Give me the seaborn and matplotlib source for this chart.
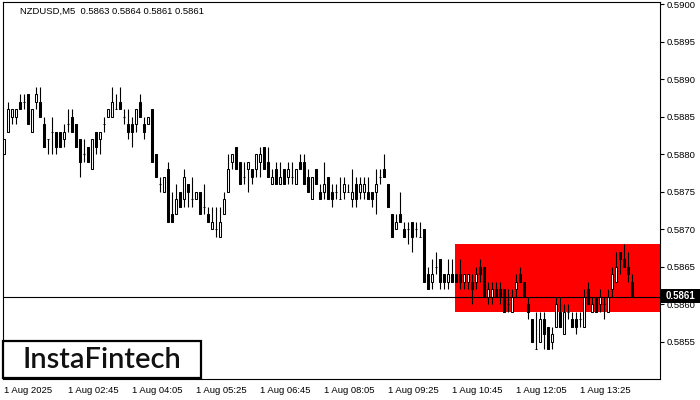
import numpy as np
import pandas as pd
import matplotlib
matplotlib.use('Agg')
import matplotlib.pyplot as plt
from matplotlib.patches import Rectangle
import seaborn as sns

# NZDUSD M5 candles, 1 Aug 2025 01:25 .. 14:30
opens = [
    0.5880, 0.5883, 0.5885, 0.5885, 0.5887, 0.5887, 0.5888, 0.5883, 0.5887, 0.5887,
    0.5884, 0.5882, 0.5883, 0.5883, 0.5883, 0.5882, 0.5884, 0.5885, 0.5884, 0.5882,
    0.5880, 0.5881, 0.5878, 0.5883, 0.5882, 0.5884, 0.5885, 0.5885, 0.5886, 0.5887,
    0.5885, 0.5884, 0.5884, 0.5884, 0.5887, 0.5884, 0.5884, 0.5886, 0.5880, 0.5876,
    0.5875, 0.5878, 0.5872, 0.5872, 0.5875, 0.5874, 0.5876, 0.5874, 0.5874, 0.5875,
    0.5873, 0.5872, 0.5870, 0.5870, 0.5869, 0.5872, 0.5875, 0.5879, 0.5881, 0.5879,
    0.5877, 0.5878, 0.5878, 0.5878, 0.5879, 0.5881, 0.5879, 0.5876, 0.5878, 0.5876,
    0.5878, 0.5877, 0.5877, 0.5876, 0.5879, 0.5879, 0.5877, 0.5874, 0.5878, 0.5875,
    0.5875, 0.5877, 0.5875, 0.5875, 0.5874, 0.5875, 0.5875, 0.5874, 0.5876, 0.5875,
    0.5875, 0.5875, 0.5875, 0.5875, 0.5877, 0.5878, 0.5876, 0.5872, 0.5870, 0.5872,
    0.5870, 0.5870, 0.5871, 0.5870, 0.5869, 0.5870, 0.5864, 0.5863, 0.5865, 0.5866,
    0.5864, 0.5863, 0.5864, 0.5864, 0.5864, 0.5863, 0.5863, 0.5863, 0.5863, 0.5865,
    0.5865, 0.5861, 0.5861, 0.5862, 0.5862, 0.5862, 0.5860, 0.5859, 0.5862, 0.5864,
    0.5863, 0.5860, 0.5858, 0.5854, 0.5855, 0.5858, 0.5857, 0.5855, 0.5857, 0.5859,
    0.5856, 0.5859, 0.5858, 0.5858, 0.5858, 0.5857, 0.5862, 0.5859, 0.5861, 0.5860,
    0.5860, 0.5859, 0.5862, 0.5863, 0.5867, 0.5866, 0.5865, 0.5863,
]
highs = [
    0.5882, 0.5887, 0.5886, 0.5886, 0.5888, 0.5888, 0.5888, 0.5886, 0.5889, 0.5889,
    0.5885, 0.5882, 0.5885, 0.5883, 0.5883, 0.5884, 0.5886, 0.5886, 0.5884, 0.5882,
    0.5882, 0.5881, 0.5882, 0.5883, 0.5883, 0.5885, 0.5886, 0.5889, 0.5888, 0.5889,
    0.5886, 0.5886, 0.5885, 0.5886, 0.5888, 0.5885, 0.5885, 0.5886, 0.5880, 0.5877,
    0.5877, 0.5879, 0.5875, 0.5876, 0.5875, 0.5878, 0.5876, 0.5877, 0.5875, 0.5875,
    0.5876, 0.5873, 0.5873, 0.5873, 0.5873, 0.5875, 0.5880, 0.5880, 0.5881, 0.5879,
    0.5879, 0.5879, 0.5878, 0.5880, 0.5881, 0.5881, 0.5881, 0.5878, 0.5879, 0.5879,
    0.5878, 0.5879, 0.5879, 0.5878, 0.5880, 0.5880, 0.5878, 0.5877, 0.5878, 0.5876,
    0.5879, 0.5877, 0.5876, 0.5876, 0.5877, 0.5877, 0.5876, 0.5878, 0.5877, 0.5877,
    0.5877, 0.5877, 0.5875, 0.5878, 0.5878, 0.5880, 0.5876, 0.5872, 0.5872, 0.5875,
    0.5871, 0.5871, 0.5871, 0.5871, 0.5871, 0.5870, 0.5865, 0.5866, 0.5867, 0.5866,
    0.5864, 0.5866, 0.5866, 0.5864, 0.5866, 0.5864, 0.5864, 0.5864, 0.5865, 0.5866,
    0.5865, 0.5863, 0.5863, 0.5863, 0.5863, 0.5862, 0.5862, 0.5862, 0.5864, 0.5865,
    0.5863, 0.5861, 0.5858, 0.5859, 0.5859, 0.5859, 0.5857, 0.5857, 0.5861, 0.5861,
    0.5860, 0.5860, 0.5859, 0.5859, 0.5859, 0.5862, 0.5863, 0.5861, 0.5861, 0.5862,
    0.5861, 0.5862, 0.5865, 0.5867, 0.5867, 0.5868, 0.5867, 0.5864,
]
lows = [
    0.5880, 0.5883, 0.5884, 0.5884, 0.5886, 0.5886, 0.5884, 0.5883, 0.5886, 0.5885,
    0.5881, 0.5880, 0.5880, 0.5880, 0.5881, 0.5881, 0.5883, 0.5883, 0.5881, 0.5877,
    0.5879, 0.5879, 0.5878, 0.5880, 0.5880, 0.5883, 0.5885, 0.5885, 0.5886, 0.5886,
    0.5884, 0.5882, 0.5881, 0.5883, 0.5885, 0.5882, 0.5884, 0.5879, 0.5877, 0.5875,
    0.5875, 0.5871, 0.5871, 0.5872, 0.5873, 0.5873, 0.5873, 0.5873, 0.5874, 0.5872,
    0.5872, 0.5871, 0.5870, 0.5869, 0.5869, 0.5872, 0.5875, 0.5878, 0.5878, 0.5876,
    0.5876, 0.5875, 0.5876, 0.5877, 0.5877, 0.5878, 0.5877, 0.5876, 0.5876, 0.5876,
    0.5876, 0.5876, 0.5876, 0.5876, 0.5878, 0.5876, 0.5875, 0.5874, 0.5876, 0.5874,
    0.5874, 0.5874, 0.5873, 0.5874, 0.5874, 0.5874, 0.5875, 0.5873, 0.5873, 0.5874,
    0.5874, 0.5874, 0.5873, 0.5872, 0.5876, 0.5877, 0.5873, 0.5869, 0.5870, 0.5871,
    0.5869, 0.5868, 0.5867, 0.5869, 0.5869, 0.5863, 0.5862, 0.5862, 0.5864, 0.5862,
    0.5862, 0.5862, 0.5863, 0.5863, 0.5862, 0.5862, 0.5862, 0.5860, 0.5862, 0.5863,
    0.5861, 0.5860, 0.5860, 0.5861, 0.5860, 0.5859, 0.5859, 0.5859, 0.5861, 0.5863,
    0.5861, 0.5858, 0.5855, 0.5854, 0.5855, 0.5854, 0.5854, 0.5854, 0.5857, 0.5857,
    0.5856, 0.5858, 0.5857, 0.5856, 0.5857, 0.5857, 0.5860, 0.5859, 0.5859, 0.5859,
    0.5858, 0.5859, 0.5861, 0.5863, 0.5864, 0.5865, 0.5863, 0.5861,
]
closes = [
    0.5882, 0.5886, 0.5886, 0.5886, 0.5886, 0.5887, 0.5884, 0.5886, 0.5888, 0.5885,
    0.5881, 0.5882, 0.5883, 0.5881, 0.5881, 0.5883, 0.5884, 0.5883, 0.5881, 0.5879,
    0.5880, 0.5879, 0.5882, 0.5881, 0.5883, 0.5884, 0.5886, 0.5887, 0.5886, 0.5886,
    0.5885, 0.5883, 0.5883, 0.5886, 0.5885, 0.5883, 0.5885, 0.5879, 0.5877, 0.5876,
    0.5877, 0.5871, 0.5871, 0.5874, 0.5873, 0.5877, 0.5875, 0.5874, 0.5875, 0.5872,
    0.5873, 0.5871, 0.5871, 0.5870, 0.5871, 0.5874, 0.5878, 0.5880, 0.5878, 0.5876,
    0.5877, 0.5879, 0.5877, 0.5880, 0.5880, 0.5878, 0.5877, 0.5877, 0.5876, 0.5877,
    0.5876, 0.5878, 0.5877, 0.5878, 0.5878, 0.5876, 0.5875, 0.5877, 0.5876, 0.5874,
    0.5876, 0.5874, 0.5874, 0.5875, 0.5874, 0.5876, 0.5875, 0.5875, 0.5874, 0.5876,
    0.5876, 0.5874, 0.5874, 0.5876, 0.5877, 0.5877, 0.5873, 0.5869, 0.5871, 0.5871,
    0.5869, 0.5870, 0.5869, 0.5870, 0.5869, 0.5863, 0.5862, 0.5864, 0.5865, 0.5863,
    0.5863, 0.5864, 0.5863, 0.5863, 0.5863, 0.5864, 0.5864, 0.5862, 0.5864, 0.5864,
    0.5861, 0.5862, 0.5862, 0.5861, 0.5861, 0.5859, 0.5860, 0.5861, 0.5863, 0.5863,
    0.5861, 0.5859, 0.5855, 0.5854, 0.5858, 0.5856, 0.5854, 0.5856, 0.5860, 0.5857,
    0.5859, 0.5859, 0.5857, 0.5857, 0.5858, 0.5861, 0.5860, 0.5860, 0.5859, 0.5861,
    0.5860, 0.5861, 0.5864, 0.5865, 0.5866, 0.5865, 0.5864, 0.5861,
]

time_labels = ['1 Aug 2025', '1 Aug 02:45', '1 Aug 04:05', '1 Aug 05:25', '1 Aug 06:45',
               '1 Aug 08:05', '1 Aug 09:25', '1 Aug 10:45', '1 Aug 12:05', '1 Aug 13:25']
price_ticks = [0.5855, 0.5860, 0.5865, 0.5870, 0.5875, 0.5880, 0.5885, 0.5890, 0.5895, 0.5900]

zone_start = 112.75   # bar index where the red zone begins
zone_low, zone_high = 0.5859, 0.5868
last_price = 0.5861

df = pd.DataFrame({'open': opens, 'high': highs, 'low': lows, 'close': closes})
df['bar'] = np.arange(len(df))
df['bull'] = df['close'] >= df['open']

sns.set_style('white')
plt.rcParams['font.family'] = ['Liberation Sans', 'DejaVu Sans']

fig = plt.figure(figsize=(7, 4), dpi=100)
ax = fig.add_axes([2.5 / 700, 21 / 400, 657.5 / 700, 377 / 400])

# red zone
ax.add_patch(Rectangle((zone_start, zone_low), 200, zone_high - zone_low,
                       facecolor='#ff0000', edgecolor='none', zorder=1))

# wicks
ax.vlines(df['bar'], df['low'], df['high'], color='black', lw=0.8, zorder=2)

# bodies
body_bottom = df[['open', 'close']].min(axis=1)
body_height = (df['close'] - df['open']).abs()
colors = np.where(df['bull'], 'white', 'black')
ax.bar(df['bar'], body_height, bottom=body_bottom, width=0.62, color=colors,
       edgecolor='black', linewidth=0.75, zorder=3)

# current price line
ax.axhline(last_price, color='black', lw=0.8, zorder=4)

ax.set_xlim(-0.375, 164)
ax.set_ylim(0.5850, 0.59003)

ax.yaxis.tick_right()
ax.set_yticks(price_ticks)
ax.set_yticklabels([f'{p:.4f}' for p in price_ticks])
ax.set_xticks(np.arange(len(time_labels)) * 16)
ax.set_xticklabels(time_labels, ha='left')
ax.tick_params(axis='y', direction='out', length=3, width=0.8, pad=2,
               labelsize=6.8, colors='black')
ax.tick_params(axis='x', direction='out', length=3, width=0.8, pad=2,
               labelsize=6.8, colors='black')
for s in ax.spines.values():
    s.set_color('black')
    s.set_linewidth(0.8)

ax.text(18 / 657.5, 1 - 9 / 377, 'NZDUSD,M5  0.5863 0.5864 0.5861 0.5861',
        transform=ax.transAxes, fontsize=6.8, va='center', ha='left', color='black')

# last price tag on the scale
fig.patches.append(Rectangle((661 / 700, 97 / 400), 39 / 700, 14 / 400,
                             transform=fig.transFigure, facecolor='black',
                             edgecolor='none', zorder=10))
fig.text(681 / 700, 104 / 400, f'{last_price:.4f}', color='white', fontsize=7,
         fontweight='bold', ha='center', va='center', zorder=11)

# logo
fig.patches.append(Rectangle((3 / 700, 22 / 400), 198 / 700, 37 / 400,
                             transform=fig.transFigure, facecolor='white',
                             edgecolor='black', linewidth=1.6, zorder=10))
fig.text(102 / 700, 40 / 400, 'InstaFintech', fontsize=21, family='Lato',
         fontweight='semibold', ha='center', va='center', color='#111111', zorder=11)

fig.savefig('out.png', dpi=100)
